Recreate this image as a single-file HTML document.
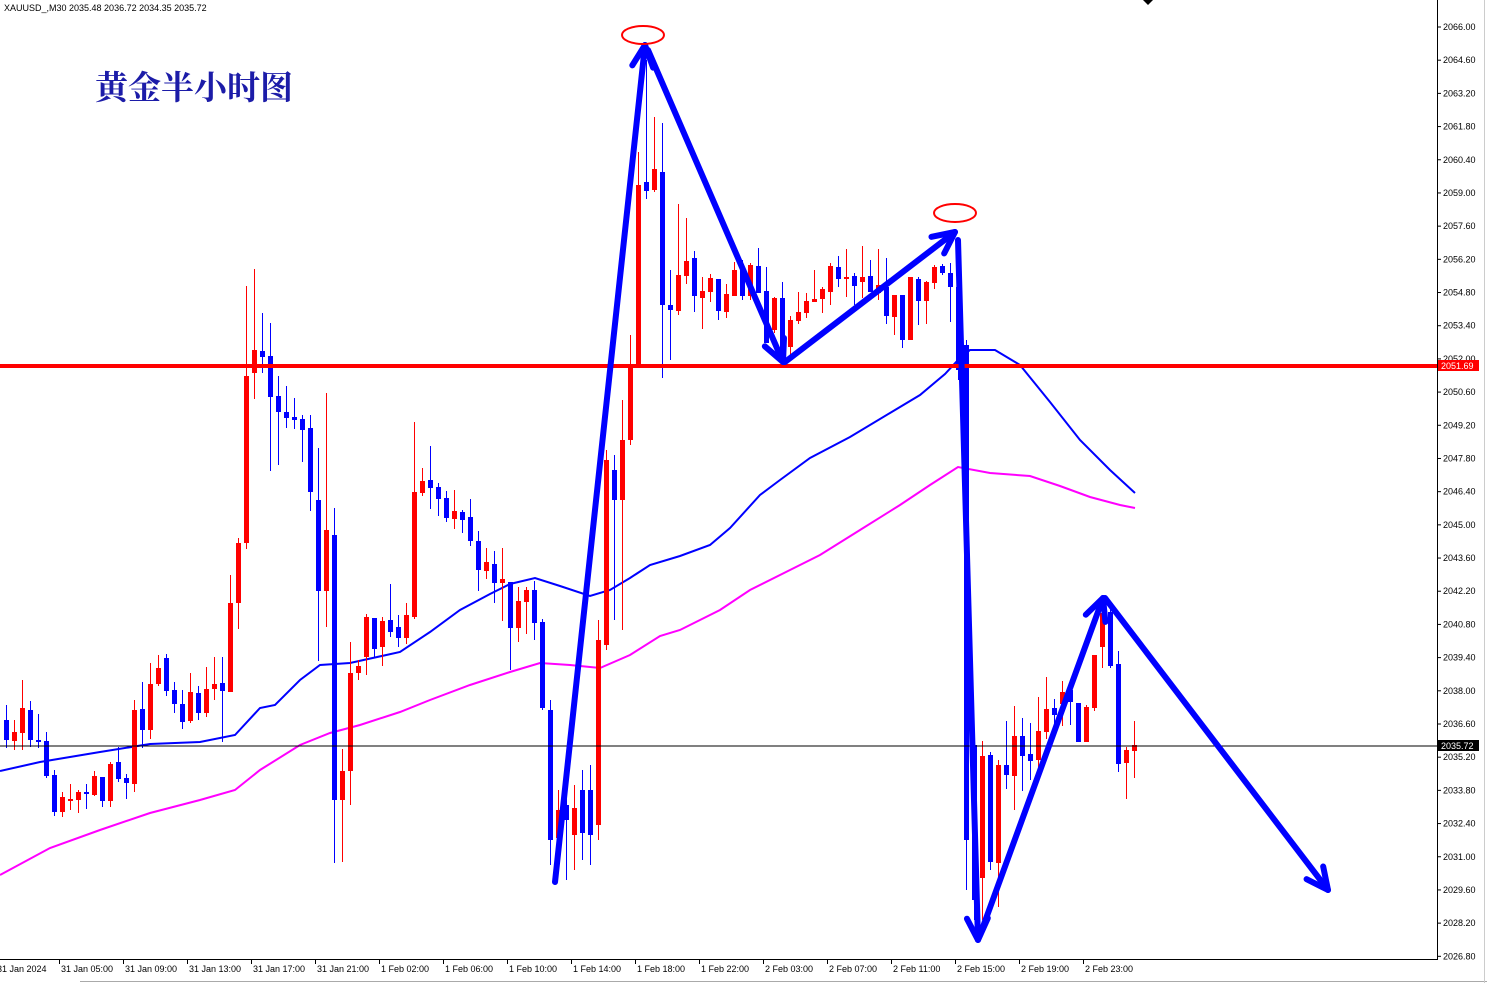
<!DOCTYPE html>
<html><head><meta charset="utf-8"><style>
html,body{margin:0;padding:0;background:#fff;}
svg{display:block;font-family:Tahoma,"Liberation Sans","DejaVu Sans",sans-serif;}
</style></head><body>
<svg id="c" width="1487" height="983" viewBox="0 0 1487 983" xmlns="http://www.w3.org/2000/svg">
<rect width="1487" height="983" fill="#fff"/>
<text x="4" y="11" font-size="9" fill="#000">XAUUSD_,M30  2035.48 2036.72 2034.35 2035.72</text>
<polygon points="1143,0 1153,0 1148,5" fill="#000"/>
<text x="95" y="99" font-size="33" font-weight="bold" fill="#1c1ca8" font-family="'Liberation Serif','Noto Serif CJK SC',serif">黄金半小时图</text>
<g id="ma"></g>
<g id="candles"></g>
<line x1="0" y1="746" x2="1437" y2="746" stroke="#000" stroke-width="1"/>
<line x1="0" y1="366" x2="1437" y2="366" stroke="#ff0000" stroke-width="4"/>
<g id="arrows" stroke="#0000ff" stroke-width="6" fill="none" stroke-linecap="round" stroke-linejoin="round"></g>
<ellipse cx="643" cy="35" rx="21" ry="9" fill="none" stroke="#ff0000" stroke-width="2"/>
<ellipse cx="955" cy="213" rx="21" ry="9" fill="none" stroke="#ff0000" stroke-width="2"/>
<line x1="1437.5" y1="0" x2="1437.5" y2="960" stroke="#000"/>
<line x1="0" y1="959.5" x2="1437" y2="959.5" stroke="#000"/>
<line x1="80" y1="981.5" x2="1487" y2="981.5" stroke="#aaa"/>
<line x1="1484.5" y1="0" x2="1484.5" y2="983" stroke="#ccc"/>
<g id="axes" font-size="9" fill="#000"></g>
</svg>
<script>
var NS="http://www.w3.org/2000/svg";
function el(t,a,p){var e=document.createElementNS(NS,t);for(var k in a)e.setAttribute(k,a[k]);(p||document.getElementById('c')).appendChild(e);return e;}
var C=[
['b',705,748,720,740],['r',720,750,732,741],['r',680,750,708,733],['b',701,747,710,740],['b',714,748,740,742],
['b',732,778,741,776],['b',770,816,775,812],['r',792,817,797,812],['r',784,810,799,801],['r',790,813,792,800],
['b',784,809,792,794],['r',771,796,776,795],['b',777,807,777,801],['r',762,807,764,801],['b',747,782,762,779],
['b',774,799,778,783],['r',700,792,710,784],['b',682,748,709,730],['r',663,739,684,730],['r',655,686,668,684],
['b',654,696,658,691],['b',682,713,690,704],['b',690,729,704,722],['r',673,723,692,721],['b',686,720,693,713],
['r',667,717,689,713],['r',657,700,684,689],['b',657,742,683,691],['r',575,692,603,692],['r',538,629,543,603],
['r',286,549,376,543],['r',269,399,350,373],['b',313,373,351,357],['b',323,471,356,397],['b',376,465,396,412],
['b',386,428,412,418],['b',398,429,417,420],['b',415,462,419,430],['b',415,511,428,492],['b',448,661,500,591],
['r',393,627,530,591],['b',508,863,535,800],['r',749,862,771,800],['r',642,805,673,771],['r',660,680,666,673],
['r',614,675,617,657],['b',618,658,618,649],['r',617,666,621,647],['b',584,637,620,632],['b',615,647,627,638],
['r',603,644,615,638],['r',422,619,492,617],['r',468,496,481,493],['b',446,509,480,488],['b',483,516,487,499],
['b',491,522,498,518],['r',490,529,511,519],['b',510,533,512,520],['b',499,546,517,541],['b',531,591,541,570],
['r',548,579,562,571],['b',551,603,564,583],['r',548,621,579,583],['b',582,670,582,628],['r',587,642,601,628],
['r',587,634,590,602],['b',581,640,590,623],['b',619,710,622,708],['b',700,865,710,840],['r',790,870,810,838],
['b',795,880,805,820],['r',785,870,808,835],['b',770,860,790,833],['b',765,865,790,835],['r',620,840,640,825],
['r',450,650,460,645],['b',455,620,470,500],['r',400,630,440,500],['r',335,445,365,440],['r',152,368,185,365],
['b',60,199,182,191],['r',117,192,169,190],['b',123,378,172,305],['b',270,360,305,310],['r',204,315,275,311],
['r',218,284,261,276],['b',251,312,258,296],['r',277,329,291,298],['r',274,302,278,292],['b',279,320,279,311],
['r',284,318,294,312],['r',262,296,270,296],['b',260,300,267,296],['r',263,300,265,296],['b',248,293,266,293],
['b',267,343,291,343],['r',297,333,298,330],['b',282,363,298,353],['r',316,357,320,347],['r',292,324,312,321],
['r',293,318,301,313],['r',270,302,299,302],['r',287,313,289,299],['r',263,305,266,292],['b',256,287,267,279],
['r',249,297,277,279],['b',273,305,276,286],['r',246,298,277,282],['b',260,292,276,292],['r',249,300,285,293],
['b',258,324,287,316],['r',295,335,295,317],['b',295,348,295,340],['r',277,340,277,340],['b',277,325,279,301],
['r',281,324,282,301],['r',265,289,267,283],['b',264,275,266,273],['b',263,322,273,287],['b',280,380,287,370],
['b',340,890,345,840],['b',740,920,745,900],['r',741,920,756,878],['b',752,870,755,862],['r',760,907,765,863],
['b',721,789,765,775],['r',706,810,736,776],['b',718,791,736,756],['b',723,780,754,761],['r',697,767,731,760],
['r',677,739,709,732],['b',699,726,708,715],['r',681,726,692,704],['b',687,725,690,702],['b',703,742,703,742],
['r',705,742,707,742],['r',655,711,655,708],['r',607,668,613,647],['b',608,668,612,666],['b',651,772,664,764],
['r',747,799,750,763],['r',721,778,745,751]
];
var g=document.getElementById('candles');
for(var i=0;i<C.length;i++){
 var d=C[i],x=6+8*i,col=d[0]=='r'?'#ff0000':'#0000ff';
 el('line',{x1:x+0.5,y1:d[1],x2:x+0.5,y2:d[2],stroke:col,'stroke-width':1},g);
 var t=d[3],b=d[4]; if(b-t<2){b=t+2;}
 el('rect',{x:x-2,y:t,width:5,height:b-t,fill:col},g);
}
var ma=document.getElementById('ma');
var B=[[0,771],[40,762],[100,752],[150,744],[200,742],[235,735],[260,708],[275,705],[300,680],[320,665],[350,663],[400,652],[430,632],[460,610],[490,594],[510,584],[535,578],[560,586],[590,596],[610,590],[630,578],[650,565],[680,556],[710,545],[730,528],[760,495],[780,480],[810,458],[850,437],[890,413],[920,395],[945,374],[958,360],[970,350],[995,350],[1020,365],[1050,402],[1080,440],[1110,470],[1135,493]];
var M=[[0,875],[50,848],[100,830],[150,813],[200,800],[235,790],[260,770],[300,745],[330,733],[360,725],[400,712],[430,700],[470,685],[510,672],[540,663],[570,665],[600,668],[630,655],[660,636],[680,630],[720,610],[750,590],[790,570],[820,555],[860,530],[900,505],[930,485],[958,467],[990,473],[1030,476],[1060,486],[1090,497],[1120,505],[1135,508]];
function pl(a){return a.map(function(p){return p[0]+','+p[1]}).join(' ');}
el('polyline',{points:pl(M),fill:'none',stroke:'#ff00ff','stroke-width':2},ma);
el('polyline',{points:pl(B),fill:'none',stroke:'#0000ff','stroke-width':2},ma);
var ar=document.getElementById('arrows');
function arrow(x1,y1,x2,y2){
 el('line',{x1:x1,y1:y1,x2:x2,y2:y2},ar);
 var a=Math.atan2(y2-y1,x2-x1),L=24,s=0.45;
 var p1=[x2-L*Math.cos(a-s),y2-L*Math.sin(a-s)],p2=[x2-L*Math.cos(a+s),y2-L*Math.sin(a+s)];
 el('polyline',{points:p1.join(',')+' '+x2+','+y2+' '+p2.join(',')},ar);
}
arrow(555,882,645,45);
arrow(648,50,783,362);
arrow(785,362,955,232);
arrow(958,240,978,940);
arrow(980,935,1103,598);
arrow(1105,598,1328,890);
var ax=document.getElementById('axes');
for(var k=0;k<29;k++){
 var p=2066-1.4*k,y=27+33.19*k;
 el('line',{x1:1437,y1:y,x2:1441,y2:y,stroke:'#000'},ax);
 var t=el('text',{x:1443,y:y+3},ax);t.textContent=p.toFixed(2);
}
el('rect',{x:1438,y:360,width:41,height:11,fill:'#ff0000'},ax);
var t=el('text',{x:1441,y:369,fill:'#fff'},ax);t.textContent='2051.69';
el('rect',{x:1438,y:740,width:41,height:11,fill:'#000'},ax);
t=el('text',{x:1441,y:749,fill:'#fff'},ax);t.textContent='2035.72';
var L=['31 Jan 2024','31 Jan 05:00','31 Jan 09:00','31 Jan 13:00','31 Jan 17:00','31 Jan 21:00','1 Feb 02:00','1 Feb 06:00','1 Feb 10:00','1 Feb 14:00','1 Feb 18:00','1 Feb 22:00','2 Feb 03:00','2 Feb 07:00','2 Feb 11:00','2 Feb 15:00','2 Feb 19:00','2 Feb 23:00'];
for(var k=0;k<L.length;k++){
 var x=-3+64*k; if(k>0){x=61+64*(k-1);}
 el('line',{x1:x-2+0.5,y1:960,x2:x-2+0.5,y2:964,stroke:'#000'},ax);
 t=el('text',{x:x,y:972},ax);t.textContent=L[k];
}
</script>
</body></html>
